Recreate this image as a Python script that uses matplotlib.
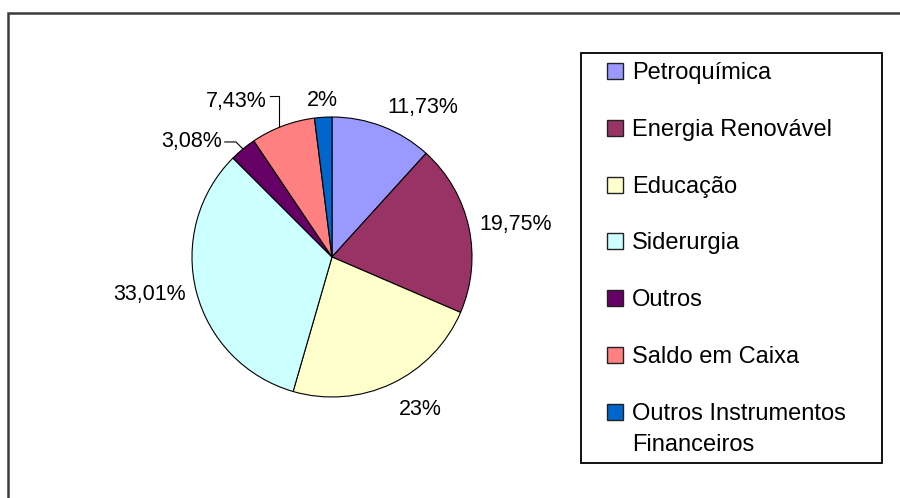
import matplotlib
matplotlib.use('Agg')
import matplotlib.pyplot as plt
from matplotlib.patches import Rectangle
import numpy as np

plt.rcParams['font.family'] = ['Liberation Sans', 'DejaVu Sans']

setores = ['Petroquímica', 'Energia Renovável', 'Educação', 'Siderurgia',
           'Outros', 'Saldo em Caixa', 'Outros Instrumentos\nFinanceiros']
percentuais = [11.73, 19.75, 23, 33.01, 3.08, 7.43, 2]
rotulos = ['11,73%', '19,75%', '23%', '33,01%', '3,08%', '7,43%', '2%']
cores = ['#9999FF', '#993366', '#FFFFCC', '#CCFFFF', '#660066', '#FF8080', '#0066CC']

W, H = 900, 498
fig = plt.figure(figsize=(W / 100, H / 100), dpi=100)


def fx(x):
    return x / W


def fy(y):
    return 1 - y / H


# moldura da área do gráfico
fig.patches.append(Rectangle((fx(8), fy(530)), fx(920 - 8), (530 - 13) / H,
                             transform=fig.transFigure, fill=False,
                             ec='#3c3c3c', lw=1.8))

# pizza: centro (332, 257) px, raio 140 px
cx, cy, r = 332, 257, 140
ax = fig.add_axes([fx(cx - r), fy(cy + r), 2 * r / W, 2 * r / H])
ax.pie(percentuais, colors=cores, startangle=90, counterclock=False,
       wedgeprops=dict(edgecolor='black', linewidth=0.8))
ax.set_xlim(-1, 1)
ax.set_ylim(-1, 1)
ax.axis('off')

vals = np.array(percentuais)
inicio = np.concatenate([[0], np.cumsum(vals)[:-1]])
meio = np.deg2rad(90 - 360 * (inicio + vals / 2) / 100)

fs_rot = 15.5
# rótulos diretos: (raio, ha, va)
diretos = {0: (1.10, 'left', 'baseline'),
           1: (1.08, 'left', 'center'),
           2: (1.12, 'left', 'top'),
           3: (1.08, 'right', 'center'),
           6: (1.08, 'center', 'baseline')}
for i, (rr, ha, va) in diretos.items():
    ax.text(rr * np.cos(meio[i]), rr * np.sin(meio[i]), rotulos[i],
            ha=ha, va=va, fontsize=fs_rot, clip_on=False)

# rótulos com linha de chamada:
# (desvio x da ponta, desvio x do cotovelo, y do cotovelo, recuo do texto, y do texto)
chamadas = {4: (0.0, -0.05, None, 0.10, None),
            5: (-0.025, 0.0, 1.15, 0.09, 1.11)}
for i, (dpx, dcx, ycot, recuo, ytexto) in chamadas.items():
    px_, py_ = np.cos(meio[i]) + dpx, np.sin(meio[i])
    ex = px_ + dcx
    ey = ycot if ycot is not None else py_ + 0.05
    tx = ex - recuo
    ax.plot([tx + 0.02, ex, px_], [ey, ey, py_],
            color='black', lw=0.8, clip_on=False)
    ax.text(tx, ytexto if ytexto is not None else ey, rotulos[i],
            ha='right', va='center', fontsize=fs_rot, clip_on=False)

# legenda
fig.patches.append(Rectangle((fx(581), fy(463)), fx(882 - 581), (463 - 53) / H,
                             transform=fig.transFigure, fill=False,
                             ec='black', lw=1.3))
y0, passo, entrelinha = 71, 56.8, 31
for k, (nome, cor) in enumerate(zip(setores, cores)):
    yc = y0 + k * passo
    fig.patches.append(Rectangle((fx(607), fy(yc + 8)), fx(16), 16 / H,
                                 transform=fig.transFigure, fc=cor,
                                 ec='#222222', lw=1.0))
    extra = nome.count('\n') * entrelinha
    fig.text(fx(632), fy(yc + 8 + extra), nome, ha='left', va='baseline',
             fontsize=17, linespacing=1.5)

fig.savefig('out.png', dpi=100)
